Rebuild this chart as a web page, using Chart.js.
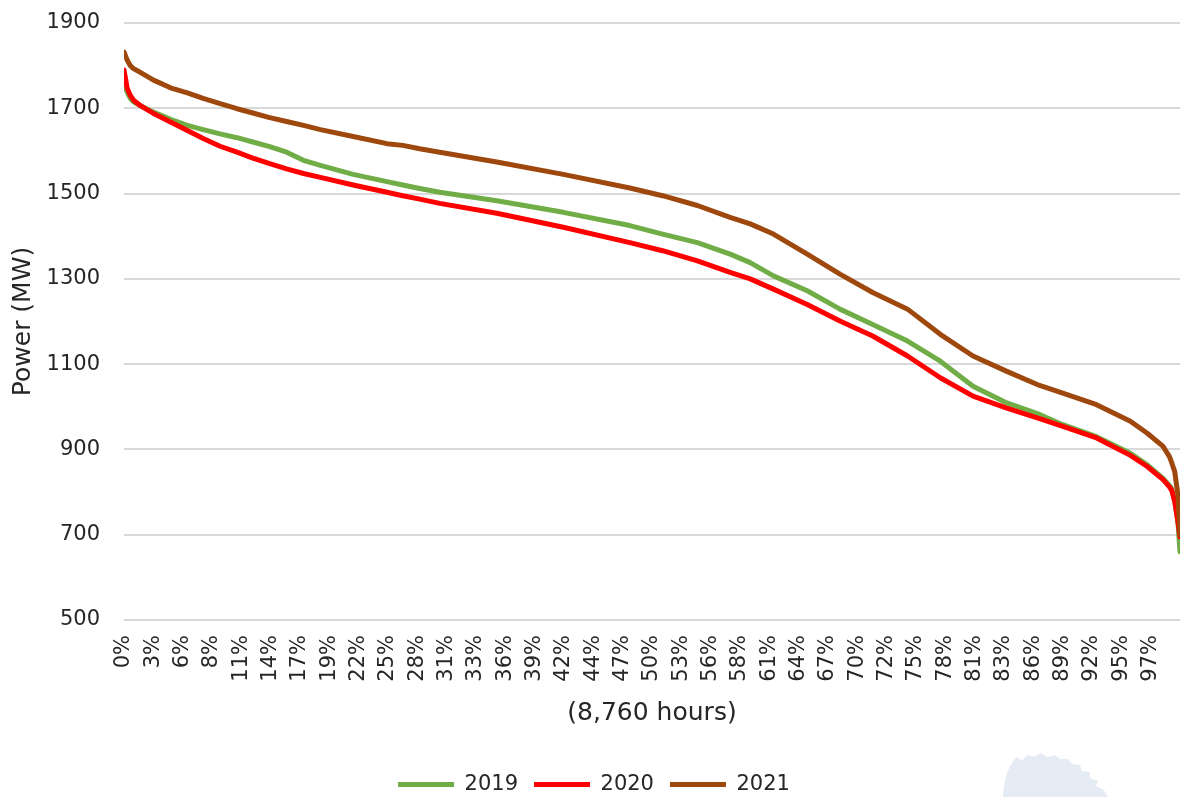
<!DOCTYPE html>
<html>
<head>
<meta charset="utf-8">
<title>Load duration curve 2019–2021</title>
<script src="https://cdn.jsdelivr.net/npm/chart.js@4.4.1/dist/chart.umd.min.js"></script>
<style>
  html, body { margin: 0; padding: 0; background: #ffffff; }
  #wrap { width: 1181px; height: 797px; position: relative; }
  canvas { display: block; }
</style>
</head>
<body>
<div id="wrap"><canvas id="chart" width="1181" height="797"></canvas></div>
<script>
// Share of the year's 8,760 hours (%), sorted from highest to lowest load
const hourShare = [0, 0.3, 0.6, 0.9, 1.5, 2.8, 4.4, 6.0, 7.5, 9.1, 10.7, 12.2, 13.8, 15.4, 17.0, 18.6,
  21.7, 24.9, 26.4, 28.0, 29.9, 35.3, 41.6, 47.9, 51.0, 54.3, 57.4, 59.3, 61.5, 64.7, 67.8, 70.9,
  74.2, 77.3, 80.4, 83.6, 86.7, 88.9, 92.1, 95.3, 96.9, 98.4, 99.0, 99.2, 99.5, 99.8, 100];

// Hourly load (MW) at each share, one series per year
const load2019 = [1758, 1738, 1723, 1715, 1707, 1691, 1674, 1660, 1650, 1640, 1631, 1621, 1610, 1597, 1578, 1566,
  1545, 1528, 1520, 1512, 1503, 1483, 1456, 1425, 1405, 1385, 1358, 1338, 1307, 1272, 1229, 1193,
  1154, 1107, 1048, 1009, 982, 958, 930, 891, 864, 832, 815, 809, 778, 731, 660];

const load2020 = [1790, 1747, 1730, 1719, 1707, 1688, 1668, 1648, 1629, 1611, 1597, 1583, 1570, 1558, 1547, 1538,
  1520, 1503, 1495, 1487, 1477, 1454, 1421, 1385, 1366, 1342, 1315, 1300, 1276, 1240, 1201, 1166,
  1119, 1068, 1025, 997, 972, 954, 927, 886, 860, 829, 812, 805, 778, 731, 695];

const load2021 = [1832, 1813, 1800, 1793, 1785, 1766, 1748, 1736, 1723, 1711, 1699, 1689, 1678, 1669, 1660, 1650,
  1634, 1617, 1613, 1605, 1597, 1574, 1545, 1513, 1495, 1472, 1444, 1429, 1405, 1358, 1311, 1268,
  1229, 1170, 1119, 1083, 1050, 1032, 1005, 966, 938, 907, 883, 870, 848, 794, 700];

// Category labels along the hour axis, evenly spaced
const xTickLabels = ['0%', '3%', '6%', '8%', '11%', '14%', '17%', '19%', '22%', '25%', '28%', '31%',
  '33%', '36%', '39%', '42%', '44%', '47%', '50%', '53%', '56%', '58%', '61%', '64%', '67%', '70%',
  '72%', '75%', '78%', '81%', '83%', '86%', '89%', '92%', '95%', '97%'];

const years = ['2019', '2020', '2021'];
const yearColors = ['#70AD47', '#FF0000', '#9E480E'];
const yearLoads = [load2019, load2020, load2021];

const FONT = '"DejaVu Sans", sans-serif';
const TEXT = '#262626';

const datasets = years.map((label, i) => ({
  label,
  data: hourShare.map((x, j) => ({ x, y: yearLoads[i][j] })),
  borderColor: yearColors[i],
  backgroundColor: yearColors[i],
  borderWidth: 5,
  borderCapStyle: 'round',
  borderJoinStyle: 'round',
  pointRadius: 0,
  pointHoverRadius: 0,
  tension: 0,
  fill: false,
  // later years are painted over earlier ones
  order: years.length - i
}));

// Faint emblem in the lower right corner
const emblem = {
  id: 'emblem',
  beforeDraw(chart) {
    const ctx = chart.ctx;
    ctx.save();
    ctx.fillStyle = '#E5ECF5';
    ctx.beginPath();
    ctx.moveTo(1003, 797);
    ctx.quadraticCurveTo(1004, 772, 1016, 757);
    ctx.lineTo(1022, 760);
    ctx.lineTo(1028, 755);
    ctx.lineTo(1034, 757);
    ctx.lineTo(1041, 753);
    ctx.lineTo(1047, 757);
    ctx.lineTo(1055, 755);
    ctx.lineTo(1060, 759);
    ctx.lineTo(1068, 759);
    ctx.lineTo(1072, 764);
    ctx.lineTo(1080, 765);
    ctx.lineTo(1082, 771);
    ctx.lineTo(1090, 772);
    ctx.lineTo(1090, 778);
    ctx.lineTo(1098, 781);
    ctx.lineTo(1096, 786);
    ctx.lineTo(1104, 790);
    ctx.lineTo(1108, 797);
    ctx.closePath();
    ctx.fill();
    ctx.restore();
  }
};

new Chart(document.getElementById('chart'), {
  type: 'line',
  data: { datasets },
  plugins: [emblem],
  options: {
    responsive: false,
    devicePixelRatio: 1,
    animation: false,
    layout: { padding: { top: 23, right: 1, left: 8, bottom: -8 } },
    plugins: {
      legend: {
        position: 'bottom',
        reverse: true,
        labels: {
          usePointStyle: true,
          pointStyle: 'line',
          pointStyleWidth: 56,
          color: TEXT,
          padding: 16,
          font: { family: FONT, size: 21 }
        }
      },
      tooltip: { enabled: false }
    },
    scales: {
      x: {
        type: 'linear',
        min: 0,
        max: 100,
        afterBuildTicks(scale) {
          scale.ticks = xTickLabels.map((_, i) => ({ value: i * 100 / 36 }));
        },
        afterFit(scale) {
          scale.height = 138;
          scale.paddingRight = 0;
          scale.paddingLeft = 0;
        },
        grid: { display: false, drawTicks: false },
        border: { display: false },
        ticks: {
          autoSkip: false,
          minRotation: 90,
          maxRotation: 90,
          padding: 15,
          color: TEXT,
          font: { family: FONT, size: 21 },
          callback: (value, index) => xTickLabels[index]
        },
        title: {
          display: true,
          text: '(8,760 hours)',
          color: TEXT,
          font: { family: FONT, size: 25 },
          padding: { top: 0, bottom: 30 }
        }
      },
      y: {
        min: 500,
        max: 1900,
        afterFit(scale) {
          scale.width = 116;
          scale.paddingTop = 0;
          scale.paddingBottom = 0;
        },
        grid: { color: '#D9D9D9', lineWidth: 2, drawTicks: false },
        border: { display: false },
        ticks: {
          stepSize: 200,
          padding: 24,
          color: TEXT,
          font: { family: FONT, size: 21 },
          callback: (value) => String(value)
        },
        title: {
          display: true,
          text: 'Power (MW)',
          color: TEXT,
          font: { family: FONT, size: 25 },
          padding: { top: 0, bottom: 2 }
        }
      }
    }
  }
});
</script>
</body>
</html>
